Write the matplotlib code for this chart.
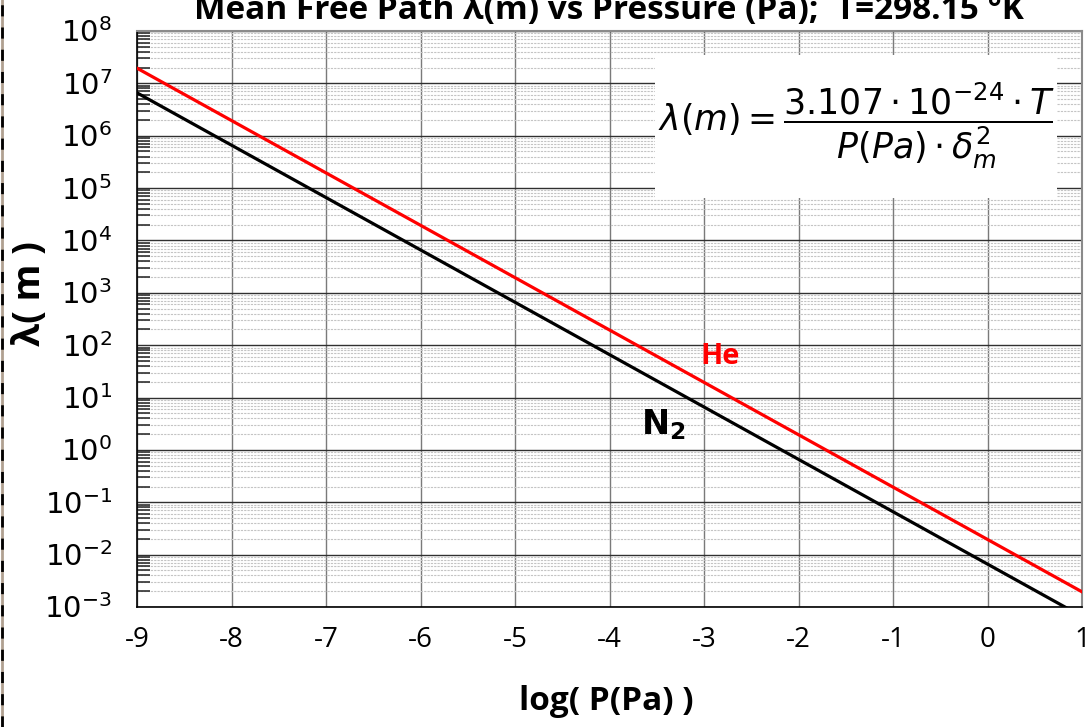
import numpy as np
import matplotlib
matplotlib.use('Agg')
import matplotlib.pyplot as plt
from matplotlib.patches import Rectangle
from matplotlib.lines import Line2D

# log10 of pressure (Pa) and mean free path (m)
log_p = [-9, -8, -7, -6, -5, -4, -3, -2, -1, 0, 1]
lambda_he = [1.95e7, 1.95e6, 1.95e5, 1.95e4, 1.95e3, 1.95e2, 1.95e1, 1.95, 1.95e-1, 1.95e-2, 1.95e-3]
lambda_n2 = [6.6e6, 6.6e5, 6.6e4, 6.6e3, 6.6e2, 6.6e1, 6.6, 6.6e-1, 6.6e-2, 6.6e-3, 6.6e-4]

x_ticks = list(range(-9, 2))
y_decades = list(range(-3, 9))

plt.rcParams['font.family'] = ['Open Sans', 'DejaVu Sans']
plt.rcParams['mathtext.fontset'] = 'dejavusans'

W, H = 1089, 727
fig = plt.figure(figsize=(W / 100, H / 100), dpi=100)
ax = fig.add_axes([137 / W, 1 - 607 / H, (1082 - 137) / W, (607 - 31) / H])

ax.set_yscale('log')
ax.set_xlim(-9, 1)
ax.set_ylim(1e-3, 1e8)

# ticks and grid
ax.set_xticks(x_ticks)
ax.set_xticklabels([str(v) for v in x_ticks], fontsize=20)
ax.set_yticks([10.0 ** d for d in y_decades])
ax.set_yticklabels([r'$10^{%d}$' % d for d in y_decades], fontsize=21)
ax.yaxis.set_minor_locator(matplotlib.ticker.LogLocator(base=10, subs=np.arange(2, 10), numticks=100))
ax.yaxis.set_minor_formatter(matplotlib.ticker.NullFormatter())
ax.grid(True, axis='x', which='major', color='#7a7a7a', linewidth=1.0)
ax.grid(True, axis='y', which='major', color='#303030', linewidth=1.0)
ax.grid(True, axis='y', which='minor', color='#c4c4c4', linewidth=0.8, linestyle=(0, (2, 1)))
ax.set_axisbelow(True)
ax.tick_params(axis='x', which='major', length=0, pad=14)
ax.tick_params(axis='y', which='major', length=0, pad=18)
ax.tick_params(axis='y', which='minor', direction='in', length=9, width=1.2, color='#303030')
for s in ['left', 'bottom']:
    ax.spines[s].set_color('black')
    ax.spines[s].set_linewidth(1.2)
for s in ['top', 'right']:
    ax.spines[s].set_color('#8a8a8a')
    ax.spines[s].set_linewidth(1.5)

# curves
ax.plot(log_p, lambda_he, color='#ff0000', linewidth=2.3, zorder=3)
ax.plot(log_p, lambda_n2, color='black', linewidth=2.3, zorder=3)

ax.text(-2.83, 60, 'He', color='#ff0000', fontsize=21, fontweight='bold',
        ha='center', va='center')
ax.text(-3.43, 3.0, r'$\mathbf{N_2}$', color='black', fontsize=24,
        ha='center', va='center')

# formula box
ax.add_patch(Rectangle((0.548, 0.710), 0.426, 0.248, transform=ax.transAxes,
                       facecolor='white', edgecolor='none', zorder=2))
ax.text(0.761, 0.835,
        r'$\lambda(m) = \dfrac{3.107\cdot 10^{-24}\cdot T}{P(Pa)\cdot \delta_m^2}$',
        transform=ax.transAxes, fontsize=25, ha='center', va='center', zorder=4)

# labels
fig.text(609 / W, 1 - 19 / H, 'Mean Free Path λ(m) vs Pressure (Pa);  T=298.15 °K',
         fontsize=24, fontweight='bold', ha='center', va='baseline')
fig.text(606 / W, 1 - 702 / H, 'log( P(Pa) )', fontsize=24, fontweight='bold',
         ha='center', va='center')
fig.text(30 / W, 1 - 294 / H, 'λ( m )', fontsize=27, fontweight='bold',
         ha='center', va='center', rotation=90)

# left border
fig.add_artist(Line2D([1.5 / W, 1.5 / W], [0, 1], transform=fig.transFigure,
                      color='#b0a090', linewidth=2))
fig.add_artist(Line2D([1.5 / W, 1.5 / W], [0, 1], transform=fig.transFigure,
                      color='black', linewidth=2, linestyle=(0, (4, 4))))

fig.savefig('out.png', dpi=100)
